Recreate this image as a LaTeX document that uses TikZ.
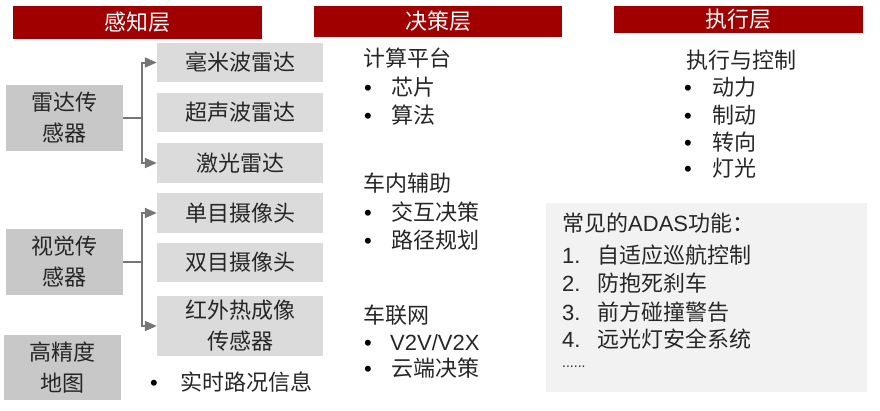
\documentclass[tikz,border=0pt]{standalone}
\usepackage{fontspec}
\setmainfont{Noto Sans CJK SC}
\newfontfamily\latinfont{Liberation Sans}
\usetikzlibrary{arrows.meta}
\definecolor{hdr}{RGB}{160,0,0}
\definecolor{boxA}{RGB}{200,200,200}
\definecolor{boxB}{RGB}{219,219,219}
\definecolor{adasbg}{RGB}{242,242,242}
\definecolor{txt}{RGB}{38,38,38}
\definecolor{conn}{RGB}{118,118,118}
\begin{document}
\begin{tikzpicture}[x=1pt,y=-1pt,
  every node/.style={font=\fontsize{22}{31}\selectfont, text=txt},
  hdrbar/.style={fill=hdr, text=white, inner sep=0pt, draw=none, minimum width=249},
  lbox/.style={fill=boxA, inner sep=0pt, minimum width=117, minimum height=66, align=center},
  rbox/.style={fill=boxB, inner sep=0pt, minimum width=166, minimum height=39, align=center},
  tline/.style={anchor=base west, inner sep=0pt},
  bul/.style={anchor=base west, inner sep=0pt, text=black, font=\fontsize{22}{31}\selectfont\latinfont},
  conline/.style={draw=conn, line width=2pt},
  conarrow/.style={draw=conn, line width=2pt, -{Triangle[length=12pt,width=10pt]}}
]
\useasboundingbox (0,0) rectangle (880,410);

% headers
\node[hdrbar, minimum height=33] (h1) at (137.5,22.5) {感知层};
\node[hdrbar, minimum width=248, minimum height=31] (h2) at (438,21.5) {决策层};
\node[hdrbar, minimum height=27] (h3) at (738.5,19.5) {执行层};

% perception layer
\node[lbox] (radar) at (64.5,118) {雷达传\\感器};
\node[lbox] (vision) at (64.5,262) {视觉传\\感器};
\node[lbox, minimum height=65] (hdmap) at (62.5,367.5) {高精度\\地图};

\node[rbox] (mmw) at (240,62.5) {毫米波雷达};
\node[rbox] (ultra) at (240,112.5) {超声波雷达};
\node[rbox, minimum height=40] (lidar) at (240,163) {激光雷达};
\node[rbox, minimum height=40] (mono) at (240,213) {单目摄像头};
\node[rbox] (stereo) at (240,262.5) {双目摄像头};
\node[rbox, minimum height=60] (ir) at (240,326) {红外热成像\\传感器};

\node[bul] (b0) at (150,390) {•};
\node[tline] (rt) at (180,390) {实时路况信息};

\path (radar.east) ++(19,0) coordinate (jr);
\path (vision.east) ++(19,0) coordinate (jv);
\draw[conline] (radar.east) -- (jr);
\draw[conarrow] (jr) |- (mmw.west);
\draw[conarrow] (jr) |- (lidar.west);
\draw[conline] (vision.east) -- (jv);
\draw[conarrow] (jv) |- (mono.west);
\draw[conarrow] (jv) |- (ir.west);

% decision layer
\node[tline] (d1) at (363,66) {计算平台};
\node[bul] (d1a) at (364,95) {•};
\node[tline] (d1at) at (391,95) {芯片};
\node[bul] (d1b) at (364,123) {•};
\node[tline] (d1bt) at (391,123) {算法};
\node[tline] (d2) at (363,191) {车内辅助};
\node[bul] (d2a) at (364,220) {•};
\node[tline] (d2at) at (391,220) {交互决策};
\node[bul] (d2b) at (364,248) {•};
\node[tline] (d2bt) at (391,248) {路径规划};
\node[tline] (d3) at (363,323) {车联网};
\node[bul] (d3a) at (364,350) {•};
\node[tline, font=\fontsize{22}{31}\selectfont\latinfont] (d3at) at (390,350) {V2V/V2X};
\node[bul] (d3b) at (364,376) {•};
\node[tline] (d3bt) at (391,376) {云端决策};

% execution layer
\node[tline] (e0) at (686,68) {执行与控制};
\node[bul] (e1) at (684,95) {•};
\node[tline] (e1t) at (712,95) {动力};
\node[bul] (e2) at (684,123) {•};
\node[tline] (e2t) at (712,123) {制动};
\node[bul] (e3) at (684,150) {•};
\node[tline] (e3t) at (712,150) {转向};
\node[bul] (e4) at (684,176) {•};
\node[tline] (e4t) at (712,176) {灯光};

% ADAS box
\node[fill=adasbg, inner sep=0pt, minimum width=321, minimum height=189] (adas) at (706.5,297.5) {};
\node[tline] (a0) at (562,231) {常见的{\latinfont ADAS}功能：};
\node[tline, font=\fontsize{22}{31}\selectfont\latinfont] (a1) at (562,263) {1.};
\node[tline] (a1t) at (597,263) {自适应巡航控制};
\node[tline, font=\fontsize{22}{31}\selectfont\latinfont] (a2) at (562,291) {2.};
\node[tline] (a2t) at (597,291) {防抱死刹车};
\node[tline, font=\fontsize{22}{31}\selectfont\latinfont] (a3) at (562,320) {3.};
\node[tline] (a3t) at (597,320) {前方碰撞警告};
\node[tline, font=\fontsize{22}{31}\selectfont\latinfont] (a4) at (562,347) {4.};
\node[tline] (a4t) at (597,347) {远光灯安全系统};
\node[tline, font=\fontsize{14}{16}\selectfont\latinfont] (a5) at (562,367) {......};
\end{tikzpicture}
\end{document}
